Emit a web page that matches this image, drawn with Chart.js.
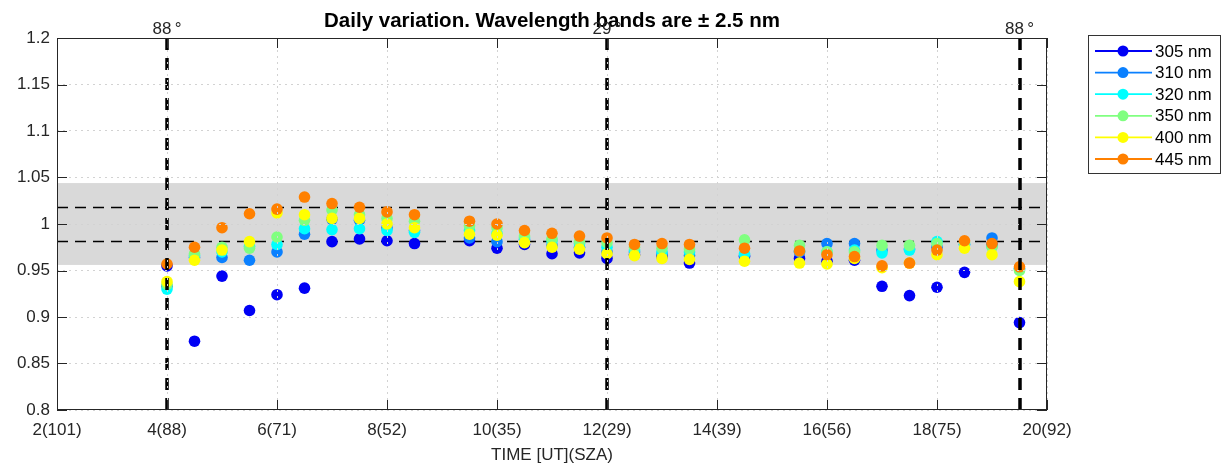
<!DOCTYPE html>
<html>
<head>
<meta charset="utf-8">
<title>Daily variation</title>
<script src="https://cdn.jsdelivr.net/npm/chart.js@4.4.1/dist/chart.umd.min.js"></script>
<style>
   html, body { margin: 0; padding: 0; background: #fff; }
   #wrap { width: 1232px; height: 468px; }
</style>
</head>
<body>
<div id="wrap"><canvas id="daily" width="1232" height="468"></canvas></div>
<script>
// measurement times, UT hours
const times = [4, 4.5, 5, 5.5, 6, 6.5, 7, 7.5, 8, 8.5, 9.5, 10, 10.5, 11, 11.5, 12, 12.5, 13, 13.5,
   14.5, 15.5, 16, 16.5, 17, 17.5, 18, 18.5, 19, 19.5]

// normalised irradiance per wavelength band
const ratio305 = [0.955, 0.874, 0.944, 0.907, 0.924, 0.931, 0.981, 0.984, 0.982, 0.979, 0.982, 0.974, 0.978, 0.968, 0.969,
   0.963, 0.967, 0.965, 0.958, 0.965, 0.963, 0.960, 0.961, 0.933, 0.923, 0.932, 0.948, 0.978, 0.894]
const ratio310 = [0.933, 0.964, 0.964, 0.961, 0.970, 0.989, 1.005, 1.004, 0.996, 0.993, 0.985, 0.981, 0.983, 0.977, 0.975,
   0.970, 0.970, 0.968, 0.966, 0.966, 0.970, 0.979, 0.979, 0.972, 0.973, 0.975, 0.978, 0.985, 0.952]
const ratio320 = [0.930, 0.966, 0.970, 0.976, 0.978, 0.995, 0.994, 0.995, 0.993, 0.991, 0.993, 0.990, 0.985, 0.982, 0.979,
   0.975, 0.972, 0.970, 0.970, 0.968, 0.971, 0.970, 0.972, 0.969, 0.972, 0.981, 0.978, 0.976, 0.952]
const ratio350 = [0.935, 0.968, 0.975, 0.974, 0.986, 1.004, 1.015, 1.010, 1.006, 1.003, 0.998, 0.996, 0.987, 0.984, 0.981,
   0.980, 0.975, 0.974, 0.973, 0.983, 0.977, 0.970, 0.970, 0.977, 0.977, 0.979, 0.980, 0.975, 0.950]
const ratio400 = [0.938, 0.961, 0.972, 0.981, 1.012, 1.010, 1.006, 1.006, 1.000, 0.996, 0.989, 0.988, 0.980, 0.975, 0.973,
   0.968, 0.966, 0.963, 0.962, 0.960, 0.958, 0.957, 0.963, 0.953, 0.958, 0.967, 0.974, 0.967, 0.938]
const ratio445 = [0.957, 0.975, 0.996, 1.011, 1.016, 1.029, 1.022, 1.018, 1.013, 1.010, 1.003, 1.000, 0.993, 0.990, 0.987,
   0.985, 0.978, 0.979, 0.978, 0.974, 0.971, 0.967, 0.965, 0.955, 0.958, 0.972, 0.982, 0.979, 0.954]

const bands = ['305 nm', '310 nm', '320 nm', '350 nm', '400 nm', '445 nm']
const bandColors = ['#0000f5', '#0a80ff', '#00ffff', '#80ff80', '#ffff00', '#ff8000']
const series = [ratio305, ratio310, ratio320, ratio350, ratio400, ratio445]

const xTickLabels = ['2(101)', '4(88)', '6(71)', '8(52)', '10(35)', '12(29)', '14(39)', '16(56)', '18(75)', '20(92)']

// tolerance band and inner limits
const outerBand = [0.956, 1.044]
const innerLimits = [0.982, 1.018]

// sunrise / noon / sunset markers with solar zenith angle
const zenithTimes = [4, 12, 19.5]
const zenithLabels = ['88\u2009°', '29\u2009°', '88\u2009°']

const FONT = "'Liberation Sans', Arial, Helvetica, sans-serif"
const INK = '#262626'

const decorations = {
   id: 'decorations',
   beforeDatasetsDraw(chart) {
      const { ctx, chartArea: a, scales: { y } } = chart
      ctx.save()
      ctx.fillStyle = '#d9d9d9'
      const top = y.getPixelForValue(outerBand[1])
      const bottom = y.getPixelForValue(outerBand[0])
      ctx.fillRect(a.left, top, a.right - a.left, bottom - top)

      ctx.strokeStyle = '#000'
      ctx.lineWidth = 1.5
      ctx.setLineDash([11, 7])
      innerLimits.forEach(v => {
         const py = Math.round(y.getPixelForValue(v)) + 0.5
         ctx.beginPath()
         ctx.moveTo(a.left, py)
         ctx.lineTo(a.right, py)
         ctx.stroke()
      })
      ctx.restore()
   },
   afterDatasetsDraw(chart) {
      const { ctx, chartArea: a, scales: { x } } = chart
      ctx.save()
      ctx.strokeStyle = '#000'
      ctx.lineWidth = 3.5
      ctx.setLineDash([12, 8])
      zenithTimes.forEach(t => {
         const px = Math.round(x.getPixelForValue(t))
         ctx.beginPath()
         ctx.moveTo(px, a.top)
         ctx.lineTo(px, a.bottom)
         ctx.stroke()
      })
      ctx.restore()
   },
   afterDraw(chart) {
      const { ctx, chartArea: a, scales: { x, y } } = chart
      ctx.save()

      // box and inward ticks
      ctx.strokeStyle = INK
      ctx.lineWidth = 1
      ctx.strokeRect(a.left + 0.5, a.top + 0.5, a.right - a.left - 1, a.bottom - a.top - 1)
      ctx.beginPath()
      x.ticks.forEach(t => {
         const px = Math.round(x.getPixelForValue(t.value)) + 0.5
         ctx.moveTo(px, a.bottom); ctx.lineTo(px, a.bottom - 10)
         ctx.moveTo(px, a.top); ctx.lineTo(px, a.top + 10)
      })
      y.ticks.forEach(t => {
         const py = Math.round(y.getPixelForValue(t.value)) + 0.5
         ctx.moveTo(a.left, py); ctx.lineTo(a.left + 10, py)
         ctx.moveTo(a.right, py); ctx.lineTo(a.right - 10, py)
      })
      ctx.stroke()

      // title
      ctx.fillStyle = '#000'
      ctx.textAlign = 'center'
      ctx.textBaseline = 'alphabetic'
      ctx.font = `bold 20.5px ${FONT}`
      ctx.fillText('Daily variation. Wavelength bands are \u00b1 2.5 nm', (a.left + a.right) / 2, 27)

      // zenith angle labels
      ctx.font = `17px ${FONT}`
      ctx.fillStyle = INK
      zenithTimes.forEach((t, i) => {
         ctx.fillText(zenithLabels[i], x.getPixelForValue(t), 34)
      })

      // legend
      const lx = 1088, ly = 35, lw = 132, lh = 138
      ctx.fillStyle = '#fff'
      ctx.fillRect(lx, ly, lw, lh)
      ctx.strokeStyle = '#333'
      ctx.lineWidth = 1
      ctx.strokeRect(lx + 0.5, ly + 0.5, lw, lh)
      ctx.textAlign = 'left'
      ctx.textBaseline = 'middle'
      ctx.font = `17px ${FONT}`
      bands.forEach((b, i) => {
         const ry = 51 + i * 21.6
         ctx.strokeStyle = bandColors[i]
         ctx.lineWidth = 1.8
         ctx.beginPath()
         ctx.moveTo(1095, ry)
         ctx.lineTo(1152, ry)
         ctx.stroke()
         ctx.fillStyle = bandColors[i]
         ctx.beginPath()
         ctx.arc(1123, ry, 5.5, 0, Math.PI * 2)
         ctx.fill()
         ctx.fillStyle = '#000'
         ctx.fillText(b, 1155, ry + 1)
      })
      ctx.restore()
   }
}

const gridStyle = { color: '#d2d2d2', lineWidth: 1, drawTicks: false, z: 1 }

new Chart(document.getElementById('daily'), {
   type: 'scatter',
   data: {
      datasets: series.map((vals, i) => ({
         label: bands[i],
         data: vals.map((v, j) => ({ x: times[j], y: v })),
         backgroundColor: bandColors[i],
         borderColor: bandColors[i],
         pointRadius: 5.8,
         pointBorderWidth: 0,
         showLine: false,
         // later bands are painted over earlier ones
         order: series.length - i
      }))
   },
   options: {
      responsive: false,
      animation: false,
      events: [],
      layout: { padding: { top: 38, right: 185, left: 0, bottom: 0 } },
      plugins: {
         legend: { display: false },
         tooltip: { enabled: false },
         title: { display: false }
      },
      scales: {
         x: {
            type: 'linear',
            min: 2,
            max: 20,
            afterFit: s => { s.height = 58 },
            ticks: {
               stepSize: 2,
               autoSkip: false,
               maxRotation: 0,
               padding: 10,
               color: INK,
               font: { family: FONT, size: 17 },
               callback: v => xTickLabels[Math.round((v - 2) / 2)]
            },
            grid: gridStyle,
            border: { display: false, dash: [2, 4] },
            title: {
               display: true,
               text: 'TIME [UT](SZA)',
               color: INK,
               font: { family: FONT, size: 17 },
               padding: { top: 2, bottom: 2 }
            }
         },
         y: {
            min: 0.8,
            max: 1.2,
            afterFit: s => { s.width = 57 },
            ticks: {
               stepSize: 0.05,
               padding: 7,
               color: INK,
               font: { family: FONT, size: 17 },
               callback: v => String(Number(v.toFixed(2)))
            },
            grid: gridStyle,
            border: { display: false, dash: [2, 4] }
         }
      }
   },
   plugins: [decorations]
})
</script>
</body>
</html>
